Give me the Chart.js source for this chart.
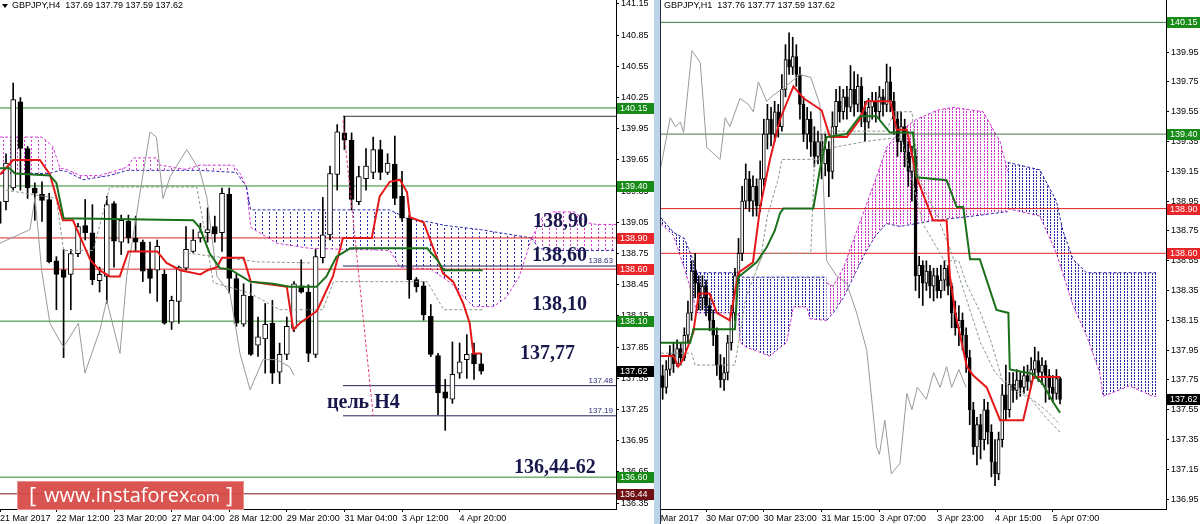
<!DOCTYPE html>
<html>
<head>
<meta charset="utf-8">
<script src="https://cdn.jsdelivr.net/npm/chart.js@4.4.1/dist/chart.umd.min.js"></script>
<style>
  html, body { margin: 0; padding: 0; background: #fff; width: 1200px; height: 524px; overflow: hidden; }
  #h4 { position: absolute; left: 0; top: 0; }
  #strip { position: absolute; left: 654px; top: 0; width: 6px; height: 524px; background: #bcd3ea; }
  #edge { position: absolute; left: 660px; top: 0; width: 1px; height: 524px; background: #1d2b3a; }
  #h1 { position: absolute; left: 661px; top: 0; }
</style>
</head>
<body>
<canvas id="h4" width="654" height="524"></canvas>
<div id="strip"></div>
<div id="edge"></div>
<canvas id="h1" width="539" height="524"></canvas>
<script>
// ---- H4 chart (left), bar index 0..67 ----
const h4Open = [139.25,139.25,139.38,140.21,139.76,139.38,139.32,139.27,138.68,138.59,
  138.55,138.75,139.02,138.95,138.49,138.53,139.23,138.86,139.06,138.90,
  138.86,138.60,138.59,138.55,138.09,138.29,138.61,138.77,138.90,138.95,
  139.01,138.95,139.32,138.51,138.07,138.34,137.87,137.93,138.08,137.61,
  137.78,138.03,138.44,138.38,137.78,138.71,138.93,139.51,139.91,139.84,
  139.25,139.47,139.53,139.75,139.53,139.61,139.30,139.09,138.50,138.44,
  138.15,137.77,137.42,137.35,137.60,137.73,137.79,137.69];
const h4High = [139.31,139.71,140.39,140.25,139.78,139.43,139.44,139.33,138.72,138.79,
  138.79,139.04,139.27,139.22,138.62,139.30,139.25,139.12,139.12,139.11,
  138.88,138.86,138.88,138.59,138.34,138.63,139.01,138.98,139.04,139.19,
  139.11,139.38,139.38,138.55,138.46,138.46,138.14,138.27,138.30,137.89,
  138.14,138.48,138.69,138.45,138.79,139.29,139.59,139.99,140.07,139.91,
  139.59,139.76,139.87,139.84,139.71,139.88,139.54,139.12,138.52,138.48,
  138.26,137.79,137.54,137.90,137.89,137.97,137.89,137.79];
const h4Low = [138.98,139.17,139.36,139.36,139.28,139.07,139.06,138.66,138.21,137.75,
  138.21,138.72,138.88,138.45,138.38,138.27,138.62,138.74,138.85,138.77,
  138.48,138.37,138.29,138.07,138.02,138.08,138.59,138.76,138.86,138.86,
  138.86,138.77,138.37,138.05,138.05,137.77,137.76,137.60,137.50,137.50,
  137.73,138.00,138.37,137.71,137.75,138.66,138.88,139.36,139.75,139.17,
  139.22,139.36,139.47,139.46,139.51,139.22,139.06,138.32,138.38,138.11,
  137.76,137.20,137.05,137.31,137.55,137.55,137.54,137.59];
const h4Close = [139.04,139.62,140.23,139.76,139.38,139.33,139.26,138.67,138.55,138.52,
  138.75,139.01,138.95,138.50,138.55,139.22,138.87,139.07,138.90,138.86,
  138.58,138.51,138.82,138.08,138.30,138.62,138.79,138.88,138.96,138.98,
  138.94,139.33,138.51,138.08,138.35,137.78,137.95,138.07,137.60,137.78,
  138.05,138.46,138.38,137.79,138.72,138.93,139.52,139.92,139.84,139.27,
  139.49,139.59,139.75,139.53,139.62,139.28,139.09,138.50,138.43,138.16,
  137.78,137.41,137.36,137.59,137.71,137.78,137.69,137.62];

const h4TimeTicks = [0.17, 8, 16, 24, 32, 40, 48, 56, 64];
const h4TimeLabels = ['21 Mar 2017', '22 Mar 12:00', '23 Mar 20:00', '27 Mar 04:00', '28 Mar 12:00',
  '29 Mar 20:00', '31 Mar 04:00', '3 Apr 12:00', '4 Apr 20:00'];
const h4PriceTicks = [141.15,140.85,140.55,140.25,139.95,139.65,139.35,139.05,138.75,138.45,
  138.15,137.85,137.55,137.25,136.95,136.65,136.35];

// indicator vertices [bar, price]
const h4Tenkan = [[0.17,139.51],[2,139.65],[5.7,139.65],[7.1,139.51],[8.9,139.07],[10.3,139.07],[11.3,138.91],
  [12.7,138.69],[14,138.59],[15.4,138.53],[16.8,138.53],[18,138.77],[22,138.77],[23.3,138.66],[25.2,138.59],
  [28,138.55],[29,138.59],[30.3,138.62],[31,138.71],[34,138.71],[35,138.48],[40,138.43],[40.9,138.02],
  [41.8,138.08],[44.2,138.2],[46.4,138.53],[47.8,138.9],[51.8,138.9],[52.9,139.3],[54.3,139.44],[55.7,139.46],
  [56.7,139.34],[57.1,139.1],[59,139.05],[60.3,138.81],[61.7,138.56],[63.1,138.48],[64.5,138.27],[65.4,138.08],
  [65.9,137.79],[67,137.79]];
const h4Kijun = [[0.17,139.57],[1.5,139.57],[2.25,139.52],[7.1,139.5],[8,139.43],[9,139.09],[27,139.07],
  [27.9,139.0],[29.3,138.75],[30.7,138.61],[32.1,138.6],[34.9,138.48],[38.1,138.46],[40.4,138.43],[44.1,138.43],
  [45.5,138.53],[46.9,138.72],[48.8,138.8],[59.5,138.8],[60.9,138.69],[61.8,138.59],[67.2,138.59]];
const h4Chikou = [[0.17,138.85],[4.33,138.98],[5.03,139.29],[5.95,138.59],[7.1,138.08],[8.96,137.85],[11.05,138.08],
  [11.97,137.6],[14.06,138.02],[14.98,138.3],[16.83,137.79],[17.76,138.53],[19.6,139.33],[21,139.92],[21.9,139.87],
  [22.8,139.28],[23.8,139.49],[26.1,139.75],[27.9,139.55],[28.9,139.29],[30.3,138.53],[32.1,138.37],[33.5,137.79],
  [34.9,137.44],[36.7,137.73],[38.6,137.73],[40.4,137.66],[41,137.58]];
const h4Dash1 = [[1,139.36],[8,139.28],[9,138.78],[13.1,138.78],[15.4,139.39],[27.5,139.39],[28.5,139.0],
  [29.8,138.47],[34.9,138.37],[39,138.21],[45,138.21],[46.5,138.48],[59.5,138.48],[61.8,138.21],[67.2,138.21]];
const h4Dash2 = [[25.5,138.76],[36,138.67],[43.2,138.66]];
const h4CloudPinkTop = [[0.17,139.87],[6,139.87],[7.5,139.78],[8.5,139.57],[9.4,139.56],[11.3,139.5],[14,139.5],
  [17.8,139.58],[18.7,139.67],[21.9,139.67],[22.4,139.6],[26,139.56],[27.9,139.6],[32.6,139.6],[33.5,139.52],[34.4,139.39]];
const h4CloudPinkBottom = [[0.17,139.52],[7,139.52],[8.5,139.55],[9.4,139.54],[11.7,139.46],[15.4,139.5],
  [17.8,139.55],[27.9,139.55],[33,139.53],[34.4,139.39]];
const h4CloudBlueTop = [[34.4,139.39],[35,139.17],[54.3,139.17],[55.5,139.13],[56.6,139.09],[60,139.05],
  [62,139.02],[66.9,138.98],[74,138.9]];
const h4CloudBlueBottom = [[34.4,139.39],[35,139.0],[37.2,138.91],[38.6,138.85],[43.2,138.8],[54.3,138.78],
  [55.7,138.62],[60,138.6],[62.7,138.47],[65.9,138.24],[68.7,138.24],[70.5,138.33],[72.3,138.53],[74,138.9]];
const h4CloudPink2Top = [[74,138.9],[75.5,139.1],[77,139.15],[80,139.15],[81.5,139.05],[83,139.03],[85.8,139.03]];
const h4CloudPink2Bottom = [[74,138.9],[75,138.8],[77,138.78],[85.8,138.78]];
const h4Target = [[47.8,140.03],[52,137.19]];
const h4Marks = [138.63, 137.48, 137.19];

// ---- H1 chart (right), bar index 4..114 ----
const h1First = 4;
const h1Open = [137.78,137.70,137.82,137.92,137.86,137.96,137.90,138.05,138.20,138.48,
  138.40,138.30,138.38,138.25,138.15,138.05,137.85,137.75,137.80,138.00,
  138.20,138.45,138.60,138.95,139.10,138.95,139.05,138.92,139.10,139.40,
  139.50,139.40,139.55,139.45,139.70,139.90,139.85,139.92,139.80,139.60,
  139.40,139.50,139.35,139.25,139.35,139.20,139.30,139.15,139.45,139.62,
  139.55,139.65,139.58,139.70,139.60,139.72,139.55,139.48,139.58,139.62,
  139.55,139.65,139.60,139.75,139.62,139.50,139.35,139.45,139.28,139.15,
  139.25,138.45,138.52,138.40,138.48,138.38,138.45,138.35,138.42,138.50,
  138.38,138.20,138.10,138.15,138.05,137.90,137.55,137.30,137.45,137.35,
  137.55,137.40,137.20,137.12,137.35,137.65,137.55,137.72,137.68,137.75,
  137.70,137.78,137.74,137.82,137.88,137.80,137.85,137.78,137.70,137.66,
  137.76];
const h1High = [137.85,137.88,137.98,138.00,138.02,138.00,138.10,138.28,138.55,138.60,
  138.45,138.45,138.42,138.30,138.22,138.10,137.92,137.90,138.05,138.25,
  138.50,138.70,139.05,139.20,139.15,139.12,139.10,139.22,139.50,139.60,
  139.58,139.62,139.60,139.80,140.00,140.08,140.05,140.00,139.85,139.65,
  139.58,139.55,139.45,139.42,139.40,139.40,139.35,139.55,139.70,139.72,
  139.70,139.72,139.86,139.82,139.80,139.78,139.62,139.64,139.68,139.68,
  139.72,139.70,139.87,139.85,139.68,139.55,139.55,139.50,139.35,139.32,
  139.30,138.58,138.55,138.55,138.52,138.50,138.50,138.52,138.55,138.52,
  138.40,138.28,138.25,138.20,138.10,137.95,137.60,137.50,137.52,137.62,
  137.60,137.45,137.35,137.40,137.72,137.85,137.80,137.80,137.82,137.80,
  137.84,137.85,137.90,137.97,137.94,137.90,137.88,137.82,137.78,137.82,
  137.77];
const h1Low = [137.62,137.66,137.78,137.80,137.84,137.85,137.88,138.00,138.15,138.30,
  138.22,138.22,138.18,138.08,137.98,137.78,137.70,137.68,137.75,137.95,
  138.15,138.40,138.55,138.90,138.88,138.85,138.85,138.88,139.05,139.30,
  139.32,139.35,139.38,139.42,139.65,139.80,139.80,139.72,139.50,139.35,
  139.30,139.25,139.18,139.20,139.10,139.12,138.98,139.10,139.40,139.48,
  139.50,139.50,139.55,139.52,139.55,139.45,139.35,139.44,139.50,139.48,
  139.50,139.52,139.55,139.55,139.40,139.25,139.28,139.18,139.05,138.95,
  138.35,138.30,138.25,138.35,138.30,138.28,138.30,138.30,138.35,138.32,
  138.10,138.05,137.98,137.95,137.80,137.45,137.25,137.18,137.22,137.28,
  137.32,137.10,137.04,137.08,137.30,137.48,137.50,137.60,137.62,137.64,
  137.66,137.68,137.70,137.76,137.74,137.72,137.60,137.62,137.60,137.62,
  137.59];
const h1Close = [137.70,137.82,137.92,137.86,137.96,137.90,138.05,138.20,138.48,138.40,
  138.30,138.38,138.25,138.15,138.05,137.85,137.75,137.80,138.00,138.20,
  138.45,138.60,138.95,139.10,138.95,139.05,138.92,139.10,139.40,139.50,
  139.40,139.55,139.45,139.70,139.90,139.85,139.92,139.80,139.60,139.40,
  139.50,139.35,139.25,139.35,139.20,139.30,139.15,139.45,139.62,139.55,
  139.65,139.58,139.70,139.60,139.72,139.55,139.48,139.58,139.62,139.55,
  139.65,139.60,139.75,139.62,139.50,139.35,139.45,139.28,139.15,139.25,
  138.45,138.52,138.40,138.48,138.38,138.45,138.35,138.42,138.50,138.38,
  138.20,138.10,138.15,138.05,137.90,137.55,137.30,137.45,137.35,137.55,
  137.40,137.20,137.12,137.35,137.65,137.55,137.72,137.68,137.75,137.70,
  137.78,137.74,137.82,137.88,137.80,137.85,137.78,137.70,137.66,137.76,
  137.62];

const h1TimeTicks = [0, 16, 32, 48, 64, 80, 96, 112];
const h1TimeLabels = ['29 Mar 2017', '30 Mar 07:00', '30 Mar 23:00', '31 Mar 15:00', '3 Apr 07:00',
  '3 Apr 23:00', '4 Apr 15:00', '5 Apr 07:00'];
const h1PriceTicks = [139.95,139.75,139.55,139.35,139.15,138.95,138.75,138.55,138.35,138.15,
  137.95,137.75,137.55,137.35,137.15,136.95];

const h1Tenkan = [[3.5,137.91],[7,137.91],[8.3,137.84],[9.5,137.88],[12.5,138.07],[14,138.33],[17,138.33],
  [19,138.2],[22.6,138.15],[25,138.47],[29,138.54],[31,138.91],[33.7,139.23],[36.5,139.5],[40.2,139.72],
  [43,139.64],[48,139.56],[50.3,139.38],[55,139.38],[58.6,139.5],[60.5,139.62],[67,139.62],[68.8,139.43],
  [71.6,139.43],[74.3,139.11],[78.9,138.82],[82.6,138.82],[83.5,138.45],[85,138.2],[88.2,137.84],[90,137.78],
  [93.7,137.7],[97.4,137.48],[103.8,137.48],[106.6,137.77],[114,137.77]];
const h1Kijun = [[3.5,138.0],[11.6,138.0],[12.5,138.09],[24,138.09],[24.9,138.44],[30,138.54],[32.8,138.64],
  [35,138.75],[36.5,138.87],[37.4,138.9],[45.7,138.9],[47.5,139.16],[49.4,139.38],[54.9,139.4],[58.6,139.52],
  [63.2,139.52],[66.9,139.41],[73.3,139.41],[74.3,139.11],[82.6,139.09],[85.4,138.91],[87.2,138.91],
  [89.1,138.56],[91.8,138.56],[96.4,138.22],[99.7,138.2],[100.1,137.82],[106.6,137.79],[109.3,137.72],
  [112.1,137.6],[114,137.53]];
const h1Chikou = [[3.5,139.18],[6.1,139.51],[7.5,139.45],[8.9,139.48],[9.8,139.41],[12.1,139.96],[14.4,139.88],
  [16.2,139.31],[19.9,139.23],[21.3,139.51],[22.6,139.45],[25.4,139.64],[27.7,139.6],[29.1,139.55],[30.5,139.75],
  [32.8,139.62],[34.6,139.66],[38,139.72],[42,139.8],[45,139.78],[47.5,139.6],[49.4,138.55],[52.1,138.45],
  [54.9,138.4],[57.7,138.2],[60.5,137.95],[63.2,137.3],[64,137.25],[65.5,137.48],[67.3,137.12],[69.7,137.19],
  [71.6,137.66],[73,137.55],[74.5,137.7],[77,137.62],[79,137.8],[80.8,137.7],[82.6,137.84],[84,137.7],
  [86,137.82],[88,137.7]];
const h1Dash1 = [[3.5,137.93],[12,137.93],[13,137.85],[24,137.85],[27,138.3],[31,138.55],[33,138.85],[36,139.1],
  [37,139.23],[48,139.23],[49,139.42],[66,139.42],[68,139.55],[73,139.55],[75,139.1],[80,138.85],[84,138.6],
  [88,138.3],[92,138.0],[96,137.8],[100,137.7],[106,137.62],[110,137.5],[114,137.4]];
const h1Dash2 = [[30,138.5],[32,138.6],[45,138.6],[46,139.2],[49,139.3],[60,139.35],[70,139.38],[73,139.1],
  [76,138.8],[82,138.55],[86,138.55],[88,138.4],[92,138.2],[95,138.0],[98,137.75],[102,137.7],[110,137.55],
  [114,137.45]];
const h1CloudBlueTop = [[3.5,138.84],[7,138.74],[10,138.7],[12.5,138.55],[13.5,138.47],[24.9,138.47],
  [26,138.44],[49.4,138.44]];
const h1CloudBlueBottom = [[3.5,138.8],[7,138.72],[10,138.5],[12.5,138.3],[13.4,138.2],[24.9,138.2],
  [25.5,138.0],[27.2,137.97],[33.7,137.91],[35.6,137.95],[38.3,138.0],[40.2,138.24],[43.9,138.24],
  [44.8,138.16],[49.4,138.15]];
const h1CloudPinkTop = [[49.4,138.4],[51.2,138.38],[54,138.5],[57,138.7],[60,138.9],[63,139.1],[66,139.31],
  [69.7,139.42],[74.3,139.5],[80,139.56],[84.4,139.58],[92.7,139.55],[97.4,139.35],[99.5,139.15]];
const h1CloudPinkBottom = [[49.4,138.15],[51.2,138.2],[54,138.3],[57,138.45],[60,138.6],[63,138.72],
  [66,138.8],[69.7,138.78],[78.9,138.82],[90,138.85],[99.5,138.88]];
const h1CloudBlue2Top = [[99.5,139.21],[108.4,139.16],[113,138.95],[114.8,138.75],[117.6,138.56],
  [121.3,138.47],[140.6,138.47]];
const h1CloudBlue2Bottom = [[99.5,138.9],[108.4,138.85],[113,138.6],[117.6,138.25],[121.3,138.05],
  [125,137.8],[125.9,137.64],[133.2,137.71],[139.7,137.64],[140.6,137.64]];

// ---- helpers ----
const FONT = '"Liberation Sans", Arial, sans-serif';

function dots(color, w, h, cells) {
  const c = document.createElement('canvas');
  c.width = w; c.height = h;
  const g = c.getContext('2d');
  g.fillStyle = color;
  cells.forEach(p => g.fillRect(p[0], p[1], 1, 1));
  return g.createPattern(c, 'repeat');
}

function candles(first, open, high, low, close, body) {
  const wicks = high.map((h, i) => ({ x: first + i, y: [low[i], h] }));
  const bodies = open.map((o, i) => ({ x: first + i, y: [o, close[i]] }));
  const fills = open.map((o, i) => close[i] >= o ? '#ffffff' : '#000000');
  return [
    { type: 'bar', data: wicks, backgroundColor: '#000', borderWidth: 0, barThickness: 1, grouped: false, order: 4 },
    { type: 'bar', data: bodies, backgroundColor: fills, borderColor: '#000', borderWidth: 1, borderSkipped: false,
      barThickness: body, grouped: false, minBarLength: 1, order: 3 }
  ];
}

function path(pts, color, width, dash, order) {
  return { type: 'line', data: pts.map(p => ({ x: p[0], y: p[1] })), borderColor: color, borderWidth: width,
    borderDash: dash || [], pointRadius: 0, tension: 0, fill: false, order: order || 1 };
}

function cloud(top, bottom, pattern, topColor, bottomColor) {
  const upper = path(top, topColor, 1, [3, 2], 6);
  upper.fill = '+1';
  upper.backgroundColor = pattern;
  return [upper, path(bottom, bottomColor, 1, [3, 2], 6)];
}

function level(v, color, from, to) {
  return path([[from, v], [to, v]], color, 1, [], 5);
}

// no label padding: the plot must fill the canvas edge to edge
function noPad(s) {
  s.paddingTop = 0; s.paddingBottom = 0; s.paddingLeft = 0; s.paddingRight = 0;
}

function scalesFor(xmin, xmax, ymin, ymax, xTicks, xLabels, yTicks, yWidth) {
  const font = { family: FONT, size: 9 };
  return {
    x: {
      type: 'linear', min: xmin, max: xmax, offset: false,
      afterBuildTicks: s => { s.ticks = xTicks.map(v => ({ value: v })); },
      afterFit: s => { s.height = 15; noPad(s); },
      ticks: { autoSkip: false, maxRotation: 0, minRotation: 0, align: 'start', padding: 1, color: '#000', font,
        callback: (v, i) => xLabels[i] },
      grid: { drawOnChartArea: false, offset: false, tickLength: 3, color: '#000' },
      border: { color: '#000' }
    },
    y: {
      type: 'linear', position: 'right', min: ymin, max: ymax,
      afterBuildTicks: s => { s.ticks = yTicks.map(v => ({ value: v })); },
      afterFit: s => { s.width = yWidth; noPad(s); },
      ticks: { autoSkip: false, padding: 2, color: '#000', font, callback: v => v.toFixed(2) },
      grid: { drawOnChartArea: false, tickLength: 3, color: '#000' },
      border: { color: '#000' }
    }
  };
}

function priceBoxes(ctx, ys, area, boxes, w) {
  ctx.font = '9px ' + FONT;
  ctx.textAlign = 'left';
  ctx.textBaseline = 'middle';
  boxes.forEach(b => {
    const py = Math.round(ys.getPixelForValue(b[0]));
    ctx.fillStyle = b[1];
    ctx.fillRect(area.right + 1, py - 5, w, 11);
    ctx.fillStyle = '#fff';
    ctx.fillText(b[0].toFixed(2), area.right + 4, py + 0.5);
  });
}

function header(ctx, text, x, arrow) {
  ctx.fillStyle = '#000';
  if (arrow) {
    ctx.beginPath(); ctx.moveTo(2, 4); ctx.lineTo(8, 4); ctx.lineTo(5, 8); ctx.closePath(); ctx.fill();
  }
  ctx.font = '9px ' + FONT;
  ctx.textAlign = 'left';
  ctx.textBaseline = 'middle';
  ctx.fillText(text, x, 6);
}

const baseOptions = {
  responsive: false, animation: false, events: [],
  layout: { padding: 0, autoPadding: false },
  plugins: { legend: { display: false }, tooltip: { enabled: false } }
};

// ---- left chart ----
const pinkL = dots('#d43cd4', 7, 4, [[3, 0], [3, 1]]);
const blueL = dots('#2a2ab0', 7, 4, [[3, 0], [3, 1]]);
const xL0 = 0.1667, xL1 = 85.72;

const h4Overlay = {
  id: 'h4Overlay',
  afterDraw(chart) {
    const ctx = chart.ctx, ys = chart.scales.y, area = chart.chartArea;
    ctx.save();
    header(ctx, 'GBPJPY,H4  137.69 137.79 137.59 137.62', 12, true);

    ctx.font = '8px ' + FONT;
    ctx.fillStyle = '#2b2b7a';
    ctx.textAlign = 'right';
    ctx.textBaseline = 'bottom';
    h4Marks.forEach(v => ctx.fillText(v.toFixed(2), area.right - 3, ys.getPixelForValue(v) - 1));

    ctx.font = 'bold 20px "Liberation Serif", "Times New Roman", serif';
    ctx.fillStyle = '#18184c';
    ctx.textAlign = 'left';
    ctx.textBaseline = 'middle';
    [['138,90', 533, 222], ['138,60', 532, 256], ['138,10', 532, 305], ['137,77', 520, 354],
     ['цель H4', 327, 403], ['136,44-62', 514, 468]].forEach(n => ctx.fillText(n[0], n[1], n[2]));

    // watermark
    ctx.fillStyle = 'rgba(214,70,66,0.92)';
    ctx.fillRect(17, 481, 227, 29);
    ctx.strokeStyle = 'rgba(240,150,150,0.9)';
    ctx.strokeRect(17.5, 481.5, 226, 28);
    ctx.fillStyle = '#fff';
    ctx.textBaseline = 'alphabetic';
    ctx.font = '22px "Open Sans", sans-serif';
    ctx.fillText('[', 29, 503);
    ctx.font = '20px "Open Sans", sans-serif';
    ctx.fillText('www.instaforex', 44, 502);
    const w = ctx.measureText('www.instaforex').width;
    ctx.font = '15px "Open Sans", sans-serif';
    ctx.fillText('com', 44 + w, 502);
    ctx.font = '22px "Open Sans", sans-serif';
    ctx.fillText(']', 226, 503);

    priceBoxes(ctx, ys, area, [[140.15, '#188a18'], [139.40, '#188a18'], [138.90, '#e8262a'], [138.60, '#e8262a'],
      [138.10, '#188a18'], [137.62, '#000'], [136.60, '#188a18'], [136.44, '#6e1014']], 37);
    ctx.restore();
  }
};

new Chart(document.getElementById('h4'), {
  type: 'line',
  data: {
    datasets: [
      ...cloud(h4CloudPinkTop, h4CloudPinkBottom, pinkL, '#d43cd4', '#2a2ab0'),
      ...cloud(h4CloudBlueTop, h4CloudBlueBottom, blueL, '#2a2ab0', '#d43cd4'),
      ...cloud(h4CloudPink2Top, h4CloudPink2Bottom, pinkL, '#d43cd4', '#2a2ab0'),
      level(140.15, '#2a8a2a', xL0, xL1),
      level(139.40, '#2a8a2a', xL0, xL1),
      level(138.90, '#e02020', xL0, xL1),
      level(138.60, '#e02020', xL0, xL1),
      level(138.10, '#2a8a2a', xL0, xL1),
      level(136.60, '#2a8a2a', xL0, xL1),
      level(136.44, '#7a1418', xL0, xL1),
      level(140.07, '#333333', 47.8, xL1),
      level(138.63, '#22225a', 47.8, xL1),
      level(137.48, '#22225a', 47.8, xL1),
      level(137.19, '#22225a', 47.8, xL1),
      ...candles(0, h4Open, h4High, h4Low, h4Close, 5),
      path(h4Chikou, '#999999', 1, [], 2),
      path(h4Dash1, '#8a9a8a', 1, [3, 2], 2),
      path(h4Dash2, '#8a9a8a', 1, [3, 2], 2),
      path(h4Target, '#e0407a', 1, [3, 2], 2),
      path(h4Kijun, '#1a701a', 2, [], 1),
      path(h4Tenkan, '#e41818', 2, [], 0)
    ]
  },
  options: Object.assign({}, baseOptions, {
    scales: scalesFor(xL0, xL1, 136.294, 141.188, h4TimeTicks, h4TimeLabels, h4PriceTicks, 38)
  }),
  plugins: [h4Overlay]
});

// ---- right chart ----
const pinkR = dots('#d030d0', 7, 3, [[1, 0], [1, 1], [4, 0], [4, 1]]);
const blueR = dots('#2626a4', 7, 3, [[1, 0], [1, 1], [4, 0], [4, 1]]);
const xR0 = 3.543, xR1 = 143.33;

const h1Overlay = {
  id: 'h1Overlay',
  afterDraw(chart) {
    const ctx = chart.ctx, ys = chart.scales.y, area = chart.chartArea;
    ctx.save();
    header(ctx, 'GBPJPY,H1  137.76 137.77 137.59 137.62', 3, false);
    priceBoxes(ctx, ys, area, [[140.15, '#188a18'], [139.40, '#188a18'], [138.90, '#e8262a'],
      [138.60, '#e8262a'], [137.62, '#000']], 33);
    ctx.restore();
  }
};

new Chart(document.getElementById('h1'), {
  type: 'line',
  data: {
    datasets: [
      ...cloud(h1CloudBlueTop, h1CloudBlueBottom, blueR, '#2626a4', '#d030d0'),
      ...cloud(h1CloudPinkTop, h1CloudPinkBottom, pinkR, '#d030d0', '#2626a4'),
      ...cloud(h1CloudBlue2Top, h1CloudBlue2Bottom, blueR, '#2626a4', '#d030d0'),
      level(140.15, '#3a7a3a', xR0, xR1),
      level(139.40, '#4f6f4f', xR0, xR1),
      level(138.90, '#e02020', xR0, xR1),
      level(138.60, '#e02020', xR0, xR1),
      ...candles(h1First, h1Open, h1High, h1Low, h1Close, 3),
      path(h1Chikou, '#999999', 1, [], 2),
      path(h1Dash1, '#8a9a8a', 1, [3, 2], 2),
      path(h1Dash2, '#8a9a8a', 1, [3, 2], 2),
      path(h1Kijun, '#1a701a', 2, [], 1),
      path(h1Tenkan, '#e41818', 2, [], 0)
    ]
  },
  options: Object.assign({}, baseOptions, {
    scales: scalesFor(xR0, xR1, 136.884, 140.30, h1TimeTicks, h1TimeLabels, h1PriceTicks, 34)
  }),
  plugins: [h1Overlay]
});
</script>
</body>
</html>
